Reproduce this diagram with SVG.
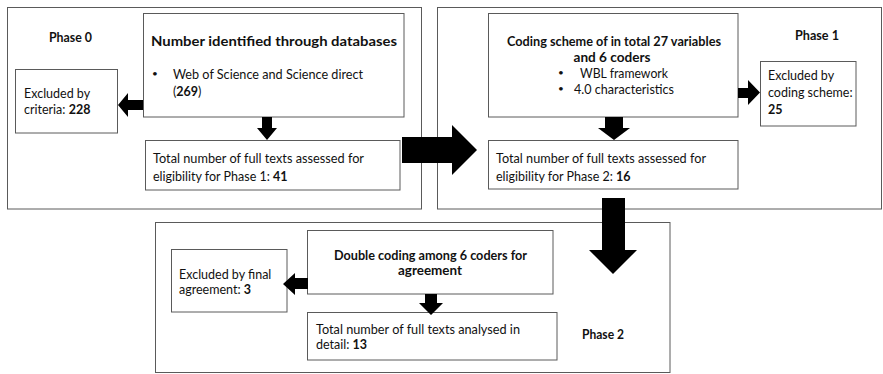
<svg xmlns="http://www.w3.org/2000/svg" width="883" height="374" viewBox="0 0 883 374">
  <style>
    .phase { fill: #ffffff; stroke: #5a5a5a; stroke-width: 1; }
    .box { fill: #ffffff; stroke: #5a5a5a; stroke-width: 1; }
    .arrow { fill: #000000; stroke: none; }
    text { font-family: Lato, "Liberation Sans", Arial, sans-serif; font-size: 13.5px; fill: #111111; }
    .b { font-weight: bold; }
    .mx { font-size: 12.5px; }
    .hd { font-weight: bold; font-size: 13.5px; }
    .lbl { font-weight: bold; font-size: 13px; }
    .dot { font-size: 10px; }
    .mid { text-anchor: middle; }
  </style>

  <!-- phase frames -->
  <g id="phase0">
    <rect class="phase" x="7.5" y="7.5" width="414" height="201.5"/>
    <text class="lbl" x="49" y="42" textLength="43" lengthAdjust="spacingAndGlyphs">Phase 0</text>
  </g>
  <g id="phase1">
    <rect class="phase" x="437.5" y="7.5" width="444" height="201.5"/>
    <text class="lbl" x="795" y="40" textLength="44" lengthAdjust="spacingAndGlyphs">Phase 1</text>
  </g>
  <g id="phase2">
    <rect class="phase" x="155.5" y="222.5" width="514.5" height="150"/>
    <text class="lbl" x="582" y="339" textLength="42" lengthAdjust="spacingAndGlyphs">Phase 2</text>
  </g>

  <!-- Phase 0 nodes -->
  <g id="databases">
    <rect class="box" x="143.5" y="13.5" width="260.5" height="103.5"/>
    <text class="hd" x="151" y="46" textLength="246" lengthAdjust="spacingAndGlyphs">Number identified through databases</text>
    <text class="dot" x="152" y="77">•</text>
    <text x="173" y="79" textLength="190" lengthAdjust="spacingAndGlyphs">Web of Science and Science direct</text>
    <text class="mx" x="173" y="96">(<tspan class="b">269</tspan>)</text>
  </g>
  <g id="excluded-criteria">
    <rect class="box" x="15.5" y="69.5" width="102" height="63.5"/>
    <text class="mx" x="24" y="98">Excluded by</text>
    <text class="mx" x="24" y="114">criteria: <tspan class="b">228</tspan></text>
  </g>
  <g id="assessed-phase1">
    <rect class="box" x="145.5" y="140.5" width="254.5" height="49.5"/>
    <text x="153" y="163" textLength="211" lengthAdjust="spacingAndGlyphs">Total number of full texts assessed for</text>
    <text class="mx" x="153" y="181">eligibility for Phase 1: <tspan class="b">41</tspan></text>
  </g>

  <!-- Phase 1 nodes -->
  <g id="coding-scheme">
    <rect class="box" x="488.5" y="13.5" width="249.5" height="103.5"/>
    <text class="hd mid" x="614" y="46" textLength="214" lengthAdjust="spacingAndGlyphs">Coding scheme of in total 27 variables</text>
    <text class="hd mid" x="612" y="62" textLength="77" lengthAdjust="spacingAndGlyphs">and 6 coders</text>
    <text class="dot" x="558" y="76">•</text>
    <text x="580" y="78" textLength="88" lengthAdjust="spacingAndGlyphs">WBL framework</text>
    <text class="dot" x="558" y="92">•</text>
    <text x="574" y="94" textLength="100" lengthAdjust="spacingAndGlyphs">4.0 characteristics</text>
  </g>
  <g id="excluded-coding">
    <rect class="box" x="760.5" y="61.5" width="95.5" height="64.5"/>
    <text class="mx" x="768" y="80">Excluded by</text>
    <text class="mx" x="768" y="97">coding scheme:</text>
    <text class="b mx" x="768" y="114">25</text>
  </g>
  <g id="assessed-phase2">
    <rect class="box" x="488.5" y="140.5" width="249.5" height="48.5"/>
    <text x="496" y="163" textLength="210" lengthAdjust="spacingAndGlyphs">Total number of full texts assessed for</text>
    <text class="mx" x="496" y="181">eligibility for Phase 2: <tspan class="b">16</tspan></text>
  </g>

  <!-- Phase 2 nodes -->
  <g id="double-coding">
    <rect class="box" x="307.5" y="230.5" width="245.5" height="63.5"/>
    <text class="hd mid" x="430.5" y="260" textLength="193" lengthAdjust="spacingAndGlyphs">Double coding among 6 coders for</text>
    <text class="hd mid" x="430" y="275" textLength="64" lengthAdjust="spacingAndGlyphs">agreement</text>
  </g>
  <g id="excluded-agreement">
    <rect class="box" x="171.5" y="249.5" width="115.5" height="62.5"/>
    <text class="mx" x="179" y="279">Excluded by final</text>
    <text class="mx" x="179" y="294">agreement: <tspan class="b">3</tspan></text>
  </g>
  <g id="analysed">
    <rect class="box" x="307.5" y="312.5" width="249.5" height="47.5"/>
    <text x="316" y="334" textLength="204" lengthAdjust="spacingAndGlyphs">Total number of full texts analysed in</text>
    <text class="mx" x="316" y="349">detail: <tspan class="b">13</tspan></text>
  </g>

  <!-- block arrows -->
  <g id="connectors">
    <polygon class="arrow" points="143,100 128,100 128,93 118,105 128,117 128,110 143,110"/>
    <polygon class="arrow" points="262,117 272,117 272,128 277,128 267,140 257,128 262,128"/>
    <polygon class="arrow" points="402,137 452,137 452,125 477,150 452,175 452,163 402,163"/>
    <polygon class="arrow" points="605,117 623,117 623,128 630,128 614,140 598,128 605,128"/>
    <polygon class="arrow" points="738,88 748,88 748,80 760,92.5 748,105 748,98 738,98"/>
    <polygon class="arrow" points="602,198 625,198 625,250 637,250 613,274 589,250 602,250"/>
    <polygon class="arrow" points="308,278 295,278 295,273 283,284 295,295 295,289 308,289"/>
    <polygon class="arrow" points="425,294 437,294 437,303 443,303 431,315 419,303 425,303"/>
  </g>
</svg>
